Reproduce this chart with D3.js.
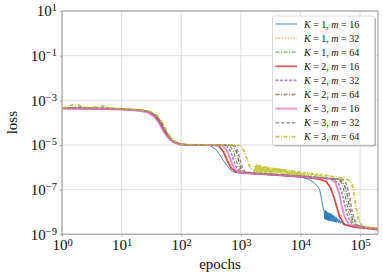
<!DOCTYPE html>
<html>
<head>
<meta charset="utf-8">
<script src="https://cdn.jsdelivr.net/npm/d3@7/dist/d3.min.js"></script>
<style>
  body { margin: 0; background: #fff; }
  svg { display: block; }
  svg text { font-family: "Liberation Serif", "DejaVu Serif", serif; fill: #111; }
</style>
</head>
<body>
<svg width="383" height="279" font-family="Liberation Serif, DejaVu Serif, serif"></svg>
<script>
// series meta
const kValues = [1, 1, 1, 2, 2, 2, 3, 3, 3];
const mValues = [16, 32, 64, 16, 32, 64, 16, 32, 64];
const colors = ["#1f77b4", "#ff7f0e", "#2ca02c", "#d62728", "#9467bd", "#8c564b", "#e377c2", "#7f7f7f", "#bcbd22"];

// loss curves, [epoch, loss]
const k1m16 = [[1,4.4e-4],[3,4.3e-4],[10,4.0e-4],[20,3.5e-4],[28,3.0e-4],[36,2.0e-4],[44,1.0e-4],[52,4.2e-5],[62,2.1e-5],[74,1.4e-5],[95,1.07e-5],[130,1.02e-5],[250,9.8e-6],[300,9.4e-6],[380,6.5e-6],[445,3.5e-6],[510,2e-6],[575,1.26e-6],[690,7e-7],[790,6e-7],[1000,5.6e-7],[2000,5.0e-7],[5000,4.2e-7],[1e4,3.6e-7],[1.2e4,3.3e-7],[1.45e4,2.7e-7],[1.7e4,2e-7],[1.9e4,1.5e-7],[2.1e4,1e-7],[2.25e4,4e-8],[2.4e4,1.5e-8],[2.5e4,1.1e-8],
  [2.55e4,5e-9],[2.6e4,1.2e-8],[2.65e4,4.6e-9],[2.7e4,1.1e-8],[2.75e4,4.4e-9],[2.8e4,1.0e-8],[2.86e4,4.2e-9],[2.92e4,9.5e-9],[2.98e4,4.1e-9],[3.04e4,9e-9],[3.1e4,4e-9],[3.17e4,8.5e-9],[3.24e4,3.9e-9],[3.31e4,8e-9],[3.38e4,3.8e-9],[3.46e4,7.4e-9],[3.54e4,3.7e-9],[3.62e4,6.8e-9],[3.7e4,3.6e-9],[3.8e4,6.2e-9],[3.9e4,3.5e-9],[4.0e4,5.6e-9],[4.1e4,3.4e-9],[4.25e4,5e-9],[4.4e4,3.2e-9],[4.55e4,4.4e-9],[4.7e4,3.1e-9],[4.9e4,3.8e-9],[5.2e4,2.8e-9],[6e4,2.6e-9],[8e4,2.3e-9],[1.2e5,2.0e-9],[2e5,1.8e-9]];
const k1m32 = [[1,4.5e-4],[3,4.35e-4],[10,4.05e-4],[20,3.6e-4],[28,3.1e-4],[37,2.1e-4],[45,1.0e-4],[53,4e-5],[63,2e-5],[76,1.35e-5],[98,1.06e-5],[130,1.02e-5],[300,9.9e-6],[440,9.5e-6],[530,5e-6],[610,2e-6],[710,9e-7],[880,6e-7],[1200,5.5e-7],[3000,4.8e-7],[1e4,3.9e-7],[2e4,3.1e-7],[2.75e4,2.4e-7],[3.25e4,1.2e-7],[3.75e4,4e-8],[4.2e4,1.5e-8],[4.6e4,5e-9],[4.8e4,8e-9],[5.0e4,3.5e-9],[6e4,2.5e-9],[1e5,2.0e-9],[2e5,1.7e-9]];
const k1m64 = [[1,4.4e-4],[2,4.6e-4],[5,4.3e-4],[10,4.1e-4],[20,3.7e-4],[29,3.1e-4],[38,2.0e-4],[46,1.0e-4],[55,4e-5],[65,2e-5],[78,1.35e-5],[100,1.06e-5],[130,1.02e-5],[400,1.0e-5],[650,9.5e-6],[760,5e-6],[840,2e-6],[920,9e-7],[1020,6e-7],[1500,5.6e-7],[3000,5e-7],[1e4,4.1e-7],[2e4,3.4e-7],[3e4,3.1e-7],[4.2e4,2.9e-7],[5e4,1.8e-7],[5.6e4,6e-8],[6.2e4,1.5e-8],[6.9e4,5e-9],[8.1e4,2.5e-9],[1.2e5,2.0e-9],[2e5,1.7e-9]];
const k2m16 = [[1,4.3e-4],[3,4.25e-4],[10,3.95e-4],[20,3.5e-4],[28,3.0e-4],[36,2.0e-4],[44,9.5e-5],[52,4e-5],[62,2e-5],[74,1.35e-5],[95,1.06e-5],[130,1.02e-5],[300,9.9e-6],[420,9.3e-6],[510,5e-6],[590,2e-6],[690,9e-7],[850,6e-7],[1200,5.5e-7],[3000,4.7e-7],[1e4,3.8e-7],[2e4,3.0e-7],[2.7e4,2.3e-7],[3.2e4,1.2e-7],[3.7e4,4e-8],[4.1e4,1.5e-8],[4.57e4,6e-9],[5.5e4,2.7e-9],[8e4,2.1e-9],[2e5,1.6e-9]];
const k2m32 = [[1,4.45e-4],[3,4.3e-4],[10,4.05e-4],[20,3.6e-4],[29,3.1e-4],[37,2.1e-4],[45,1.0e-4],[54,4e-5],[64,2e-5],[77,1.35e-5],[98,1.06e-5],[130,1.02e-5],[350,1.0e-5],[575,9.5e-6],[680,5e-6],[760,2e-6],[850,9e-7],[960,6e-7],[1400,5.5e-7],[3000,4.9e-7],[1e4,4.0e-7],[2e4,3.3e-7],[3.5e4,3.0e-7],[4.3e4,2e-7],[5e4,7e-8],[5.6e4,1.8e-8],[6.3e4,5.5e-9],[7.6e4,2.6e-9],[1.2e5,2.0e-9],[2e5,1.7e-9]];
const k2m64 = [[1,4.5e-4],[2,4.8e-4],[4,4.4e-4],[10,4.1e-4],[20,3.7e-4],[29,3.1e-4],[38,2.1e-4],[46,1.0e-4],[55,4e-5],[65,2e-5],[78,1.35e-5],[100,1.06e-5],[130,1.02e-5],[450,1.0e-5],[740,9.5e-6],[840,5e-6],[920,2e-6],[1000,9e-7],[1090,6.2e-7],[1600,5.6e-7],[3000,5e-7],[1e4,4.1e-7],[2e4,3.5e-7],[3e4,3.2e-7],[4.5e4,2.9e-7],[5.4e4,1.8e-7],[6.1e4,6e-8],[6.7e4,1.5e-8],[7.4e4,5e-9],[8.7e4,2.5e-9],[1.3e5,2.0e-9],[2e5,1.8e-9]];
const k3m16 = [[1,4.3e-4],[3,4.2e-4],[10,3.9e-4],[20,3.4e-4],[27,2.9e-4],[35,1.9e-4],[43,9e-5],[51,3.8e-5],[61,2e-5],[73,1.35e-5],[94,1.06e-5],[130,1.02e-5],[300,1.0e-5],[500,9.5e-6],[600,5e-6],[680,2e-6],[770,9e-7],[900,6e-7],[1300,5.5e-7],[3000,4.8e-7],[1e4,3.9e-7],[2e4,3.3e-7],[3.1e4,3.1e-7],[3.8e4,2.2e-7],[4.4e4,8e-8],[4.9e4,2e-8],[5.5e4,6e-9],[6.6e4,2.7e-9],[1e5,2.1e-9],[2e5,1.8e-9]];
const k3m32 = [[1,4.5e-4],[2,4.9e-4],[3,4.5e-4],[5,4.7e-4],[10,4.1e-4],[20,3.7e-4],[29,3.1e-4],[38,2.1e-4],[47,1.0e-4],[56,4e-5],[66,2e-5],[79,1.35e-5],[100,1.06e-5],[130,1.02e-5],[500,1.0e-5],[790,9.5e-6],[900,5e-6],[980,2e-6],[1070,9e-7],[1170,6.2e-7],[1700,5.6e-7],[3000,5.1e-7],[1e4,4.2e-7],[2e4,3.5e-7],[3.5e4,3.1e-7],[5.1e4,2.9e-7],[5.9e4,1.8e-7],[6.6e4,6e-8],[7.2e4,1.5e-8],[7.9e4,5e-9],[9.1e4,2.5e-9],[1.3e5,2.0e-9],[2e5,1.8e-9]];
const k3m64 = [[1,4.5e-4],[1.35,5.6e-4],[1.6,6.6e-4],[1.9,6.2e-4],[2.3,5e-4],[3,4.6e-4],[4,5.2e-4],[4.9,5.6e-4],[6,4.6e-4],[10,4.2e-4],[20,3.8e-4],[30,3.2e-4],[39,2.2e-4],[48,1.05e-4],[57,4.2e-5],[67,2.1e-5],[80,1.4e-5],[100,1.08e-5],[130,1.03e-5],[600,1.0e-5],[1000,9.5e-6],[1150,5e-6],[1300,2e-6],[1450,9e-7],[1700,6.8e-7],
  [1740,1.2e-6],[1780,6.6e-7],[1830,1.25e-6],[1870,6.5e-7],[1910,1.2e-6],[1960,6.4e-7],[2010,1.15e-6],[2060,6.3e-7],[2110,1.2e-6],[2160,6.2e-7],[2210,1.1e-6],[2270,6.1e-7],[2320,1.1e-6],[2380,6.1e-7],[2440,1.05e-6],[2500,6e-7],[2560,1.05e-6],[2630,6e-7],[2690,1.0e-6],[2760,5.9e-7],[2830,1.0e-6],[2900,5.9e-7],[2970,9.6e-7],[3040,5.8e-7],[3120,9.5e-7],[3200,5.8e-7],[3270,9.2e-7],[3350,5.7e-7],[3430,9e-7],[3520,5.7e-7],[3610,8.8e-7],[3700,5.6e-7],[3790,8.7e-7],[3880,5.6e-7],[3980,8.5e-7],[4080,5.5e-7],[4180,8.4e-7],[4280,5.5e-7],[4390,8.2e-7],[4500,5.4e-7],[4610,8e-7],[4720,5.4e-7],[4840,7.9e-7],[4960,5.3e-7],[5080,7.8e-7],[5200,5.3e-7],[5330,7.6e-7],[5460,5.2e-7],[5600,7.5e-7],[5740,5.2e-7],[5880,7.4e-7],[6020,5.1e-7],[6170,7.3e-7],[6320,5.1e-7],[6480,7.1e-7],[6640,5e-7],[6800,7e-7],[6970,5e-7],[7140,6.9e-7],[7320,4.9e-7],[7500,6.8e-7],[7690,4.9e-7],[7880,6.7e-7],[8070,4.8e-7],[8270,6.6e-7],[8470,4.8e-7],[8680,6.5e-7],[8900,4.7e-7],[9120,6.4e-7],[9340,4.7e-7],[9570,6.3e-7],[9810,4.6e-7],[10050,6.2e-7],[10300,4.6e-7],[10800,6e-7],[11300,4.5e-7],[11850,5.9e-7],[12400,4.5e-7],[13000,5.7e-7],[13600,4.4e-7],[14300,5.5e-7],[15000,4.4e-7],[15700,5.4e-7],[16500,4.3e-7],[17300,5.2e-7],[18100,4.3e-7],[19000,5.1e-7],[19900,4.2e-7],[20900,4.9e-7],[21900,4.1e-7],[23000,4.8e-7],[24100,4.0e-7],[25300,4.6e-7],[26500,4.0e-7],[27800,4.5e-7],[29100,3.9e-7],[30500,4.3e-7],[32000,3.9e-7],
  [4e4,3.6e-7],[5e4,3.3e-7],[6e4,2.9e-7],[6.6e4,2.5e-7],[7.4e4,1.6e-7],[8e4,6e-8],[8.6e4,1.5e-8],[9.3e4,5e-9],[1.05e5,2.6e-9],[1.4e5,2.1e-9],[2e5,1.9e-9]];

const series = [k1m16, k1m32, k1m64, k2m16, k2m32, k2m64, k3m16, k3m32, k3m64];
const dashes = [null, "1.5,1.5", "4,1.5,1,1.5", null, "3,1.5", "4,1.5,1,1.5", null, "3.5,2", "4,1.5,1,1.5"];
const widths = [1, 1, 1.1, 1.6, 1.5, 1.5, 1.8, 1.5, 1.8];

const xTicks = [1e0, 1e1, 1e2, 1e3, 1e4, 1e5];
const yTicks = [1e1, 1e-1, 1e-3, 1e-5, 1e-7, 1e-9];

const FONT = "Liberation Serif, DejaVu Serif, serif";
const svg = d3.select("svg");
const margin = {left: 62, right: 5, top: 11, bottom: 44.7};
const W = 383, H = 279;

const x = d3.scaleLog().domain([1, 2e5]).range([margin.left, W - margin.right]);
const y = d3.scaleLog().domain([1e-9, 10]).range([H - margin.bottom, margin.top]);

// grid
const grid = svg.append("g").attr("stroke", "#d6d6d6").attr("stroke-width", 0.8);
grid.selectAll(".gx").data(xTicks).enter().append("line")
  .attr("x1", d => x(d)).attr("x2", d => x(d))
  .attr("y1", y.range()[1]).attr("y2", y.range()[0]);
grid.selectAll(".gy").data(yTicks).enter().append("line")
  .attr("y1", d => y(d)).attr("y2", d => y(d))
  .attr("x1", x.range()[0]).attr("x2", x.range()[1]);

// superscript labels 10^n
function powLabels(g, raise) {
  g.selectAll(".tick text").each(function(d) {
    const e = Math.round(Math.log10(d));
    const t = d3.select(this).text(null);
    t.append("tspan").text("10");
    t.append("tspan").attr("dy", -raise).attr("font-size", "10.5px")
      .text(e < 0 ? "\u2212" + (-e) : e);
  });
}

const xAxis = svg.append("g")
  .attr("transform", `translate(0,${y.range()[0]})`)
  .call(d3.axisBottom(x).tickValues(xTicks).tickSize(2).tickPadding(3));
xAxis.call(powLabels, 4);

const yAxis = svg.append("g")
  .attr("transform", `translate(${x.range()[0]},0)`)
  .call(d3.axisLeft(y).tickValues(yTicks).tickSize(2).tickPadding(3));
yAxis.call(powLabels, 5);

[xAxis, yAxis].forEach(a => {
  a.attr("font-family", FONT).attr("font-size", 15);
  a.select(".domain").remove();
  a.selectAll(".tick line").attr("stroke", "#999");
  a.selectAll(".tick text").attr("fill", "#111");
});

// lines
svg.append("clipPath").attr("id", "clip").append("rect")
  .attr("x", x.range()[0]).attr("y", y.range()[1])
  .attr("width", x.range()[1] - x.range()[0]).attr("height", y.range()[0] - y.range()[1]);

const line = d3.line().x(d => x(d[0])).y(d => y(d[1]));
svg.append("g").attr("clip-path", "url(#clip)")
  .selectAll("path").data(series).enter().append("path")
  .attr("d", line)
  .attr("fill", "none")
  .attr("stroke", (d, i) => colors[i])
  .attr("stroke-width", (d, i) => widths[i])
  .attr("stroke-dasharray", (d, i) => dashes[i])
  .attr("stroke-opacity", 0.85)
  .attr("stroke-linejoin", "round");

// frame
svg.append("rect")
  .attr("x", x.range()[0]).attr("y", y.range()[1])
  .attr("width", x.range()[1] - x.range()[0]).attr("height", y.range()[0] - y.range()[1])
  .attr("fill", "none").attr("stroke", "#a6a6a6").attr("stroke-width", 1.2);

// axis titles
svg.append("text").attr("x", (x.range()[0] + x.range()[1]) / 2).attr("y", 269)
  .attr("text-anchor", "middle").attr("font-family", FONT).attr("font-size", "15px").text("epochs");
svg.append("text")
  .attr("transform", `translate(17,${(y.range()[0] + y.range()[1]) / 2}) rotate(-90)`)
  .attr("text-anchor", "middle").attr("font-family", FONT).attr("font-size", "15px").text("loss");

// legend
const lg = svg.append("g").attr("transform", "translate(272.5,16)");
lg.append("rect").attr("x", 1.5).attr("y", 1.5).attr("width", 102).attr("height", 129)
  .attr("rx", 2).attr("fill", "#b5b5b5");
lg.append("rect").attr("width", 102).attr("height", 129).attr("rx", 2)
  .attr("fill", "#fff").attr("stroke", "#d0d0d0").attr("stroke-width", 0.8);

const items = lg.selectAll(".item").data(series).enter().append("g")
  .attr("transform", (d, i) => `translate(0,${8 + i * 14.1})`);
items.append("line").attr("x1", 3).attr("x2", 24.5)
  .attr("stroke", (d, i) => colors[i])
  .attr("stroke-width", (d, i) => widths[i] * 1.1)
  .attr("stroke-dasharray", (d, i) => dashes[i])
  .attr("stroke-opacity", 0.75);
const lt = items.append("text").attr("x", 31.5).attr("dy", "0.35em")
  .attr("font-family", FONT).attr("font-size", "10px");
lt.append("tspan").attr("font-style", "italic").text("K");
lt.append("tspan").text((d, i) => " = " + kValues[i] + ", ");
lt.append("tspan").attr("font-style", "italic").text("m");
lt.append("tspan").text((d, i) => " = " + mValues[i]);
</script>
</body>
</html>
